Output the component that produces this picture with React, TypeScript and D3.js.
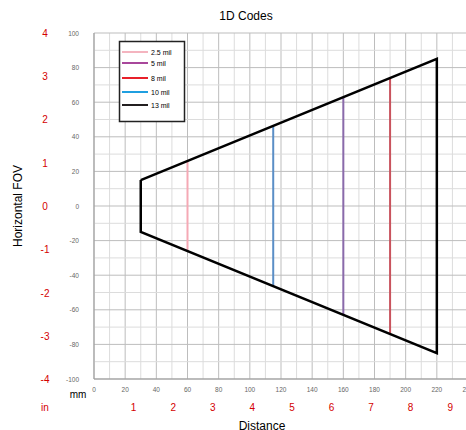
import React from 'react';
import * as d3 from 'd3';

// envelope of the field of view (mm)
const envelopeX = [30, 30, 220, 220];
const envelopeY = [15, -15, -85, 85];

const codeNames = ['2.5 mil', '5 mil', '8 mil', '10 mil', '13 mil'];
const legendColors = ['#f4b4bf', '#a8479b', '#e8202a', '#1f9fe0', '#231f20'];
// vertical reading depth lines in the plot
const lineX = [60, 160, 190, 115];
const lineColors = ['#f5a9b5', '#8a6aab', '#c9535d', '#5a8ec6'];

const xTicks = [0, 20, 40, 60, 80, 100, 120, 140, 160, 180, 200, 220, 240];
const yTicks = [100, 80, 60, 40, 20, 0, -20, -40, -60, -80, -100];
const inchX = [1, 2, 3, 4, 5, 6, 7, 8, 9];
const inchY = [4, 3, 2, 1, 0, -1, -2, -3, -4];

const W = 466;
const H = 430;

export default function App() {
  const x = d3.scaleLinear().domain([0, 240]).range([94, 468]);
  const y = d3.scaleLinear().domain([-100, 100]).range([379, 33]);

  const gridX = d3.range(0, 250, 10);
  const gridY = d3.range(-100, 110, 10);

  const pts = envelopeX.map((v, i) => [x(v), y(envelopeY[i])] as [number, number]);
  const outline = d3.line()(pts.concat([pts[0]])) as string;

  // top/bottom edge height at a given distance
  const edge = (d: number) => 15 + ((d - 30) * 70) / 190;

  const font = 'Liberation Sans, Arial, sans-serif';

  return (
    <svg width={W} height={H} style={{ position: 'absolute', left: 0, top: 0 }} fontFamily={font}>
      <rect width={W} height={H} fill="#fff" />
      <text x={246} y={20} textAnchor="middle" fontSize={12}>1D Codes</text>

      {gridX.map((g) => (
        <line key={'gx' + g} x1={x(g)} x2={x(g)} y1={y(100)} y2={y(-100)}
          stroke={g % 20 === 0 ? '#bdbdbd' : '#dcdcdc'} strokeWidth={1} />
      ))}
      {gridY.map((g) => (
        <line key={'gy' + g} x1={x(0)} x2={W} y1={y(g)} y2={y(g)}
          stroke={g % 20 === 0 ? '#bdbdbd' : '#dcdcdc'} strokeWidth={1} />
      ))}
      <line x1={x(0)} x2={W} y1={y(-100)} y2={y(-100)} stroke="#999" />
      <line x1={x(0)} x2={x(0)} y1={y(100)} y2={y(-100)} stroke="#999" />

      {yTicks.map((t) => (
        <text key={'yt' + t} x={x(0) - 15} y={y(t) + 2.5} textAnchor="end" fontSize={6.5} fill="#666">{t}</text>
      ))}
      {xTicks.map((t) => (
        <text key={'xt' + t} x={x(t)} y={392} textAnchor="middle" fontSize={6.5} fill="#666">{t}</text>
      ))}

      {inchY.map((t) => (
        <text key={'iy' + t} x={45} y={y(t * 25.4 * 0.985) + 4} textAnchor="middle" fontSize={10} fill="#d40000">{t}</text>
      ))}
      {inchX.map((t) => (
        <text key={'ix' + t} x={x(t * 25.4)} y={411} textAnchor="middle" fontSize={10} fill="#d40000">{t}</text>
      ))}
      <text x={45} y={411} textAnchor="middle" fontSize={10} fill="#d40000">in</text>
      <text x={78} y={398} textAnchor="middle" fontSize={10}>mm</text>
      <text x={262} y={430} textAnchor="middle" fontSize={12}>Distance</text>
      <text transform={`translate(22,206) rotate(-90)`} textAnchor="middle" fontSize={12}>Horizontal FOV</text>

      {lineX.map((d, i) => (
        <line key={'v' + d} x1={x(d)} x2={x(d)} y1={y(edge(d))} y2={y(-edge(d))}
          stroke={lineColors[i]} strokeWidth={2} />
      ))}
      <path d={outline} fill="none" stroke="#000" strokeWidth={2.5} strokeLinejoin="miter" />

      <rect x={119.5} y={41.5} width={65} height={80} fill="#fff" stroke="#222" strokeWidth={1.5} />
      {codeNames.map((n, i) => {
        const ly = [52, 63, 78, 92, 105][i];
        return (
          <g key={n}>
            <line x1={122} x2={148} y1={ly} y2={ly} stroke={legendColors[i]} strokeWidth={2} />
            <text x={151} y={ly + 2.5} fontSize={7}>{n}</text>
          </g>
        );
      })}
    </svg>
  );
}
